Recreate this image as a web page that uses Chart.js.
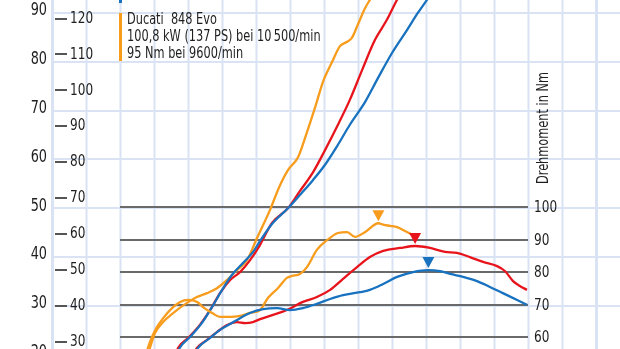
<!DOCTYPE html>
<html lang="de">
<head>
<meta charset="UTF-8">
<title>Ducati 848 Evo - Leistung und Drehmoment</title>
<script src="https://cdn.jsdelivr.net/npm/chart.js@4.4.1/dist/chart.umd.min.js"></script>
<style>
    html, body { margin: 0; padding: 0; background: #fff; }
    .wrap { position: relative; width: 620px; height: 349px; }
</style>
</head>
<body>
<div class="wrap"><canvas id="dyno"></canvas></div>
<script>
// Leistung (kW) ueber Drehzahl (1/min)
const orangePowerRpm = [2790, 2880, 3030, 3240, 3560, 3970, 4260, 4560, 4850, 5150, 5440, 5740, 6030, 6410, 6680, 6940, 7240, 7500, 7740, 7970, 8240, 8470, 8680, 8820, 9000, 9210, 9350, 9600, 10500];
const orangePowerKw  = [19.5, 21.4, 24.4, 26.5, 28.5, 30.6, 31.8, 32.6, 33.6, 35.3, 37.3, 39.4, 43.9, 49.6, 54.3, 57.8, 60.5, 65.6, 70.7, 75.9, 80.0, 83.2, 84.1, 84.9, 87.7, 91.0, 92.7, 95.5, 100.8];

const redPowerRpm = [3650, 3710, 4000, 4350, 4650, 4940, 5240, 5530, 5820, 6120, 6470, 6940, 7290, 7680, 8030, 8410, 8760, 9120, 9500, 9850, 10150, 10450];
const redPowerKw  = [20.3, 21.4, 23.4, 26.1, 29.1, 32.6, 35.3, 36.9, 39.3, 42.5, 47.0, 50.0, 53.5, 57.4, 61.9, 67.1, 72.2, 78.3, 84.5, 88.6, 92.7, 96.0];

const bluePowerRpm = [3700, 3760, 4060, 4410, 4710, 5000, 5290, 5620, 5910, 6120, 6500, 6940, 7290, 7680, 8030, 8410, 8760, 9210, 9590, 10000, 10440, 10760, 11030, 11300];
const bluePowerKw  = [20.4, 21.4, 23.6, 26.5, 29.8, 33.2, 36.3, 38.8, 41.0, 43.3, 47.0, 50.0, 52.7, 55.8, 58.9, 63.0, 67.1, 71.8, 76.7, 81.8, 86.5, 90.0, 92.7, 95.3];

// Drehmoment (Nm) ueber Drehzahl
const orangeTorqueRpm = [2780, 2820, 2940, 3090, 3270, 3530, 3770, 4000, 4270, 4440, 4710, 4940, 5240, 5530, 5820, 6120, 6350, 6650, 6910, 7060, 7290, 7500, 7790, 8090, 8410, 8680, 8910, 9210, 9600, 9740, 9940, 10150, 10440, 10620];
const orangeTorqueNm  = [55.0, 56.6, 60.0, 63.1, 65.8, 68.9, 70.8, 71.4, 70.8, 69.2, 67.4, 66.2, 66.2, 66.5, 67.4, 68.3, 72.0, 75.1, 78.2, 78.8, 79.4, 81.5, 86.8, 89.8, 92.0, 92.3, 90.8, 92.3, 95.0, 94.6, 94.2, 93.8, 92.3, 91.4];

const redTorqueRpm = [4180, 4260, 4560, 4850, 5150, 5440, 5680, 5910, 6120, 6500, 6910, 7380, 7790, 8180, 8560, 8970, 9350, 9740, 10240, 10680, 11120, 11560, 11910, 12290, 12680, 13090, 13320, 13560, 13760, 13970];
const redTorqueNm  = [55.0, 56.6, 59.1, 61.5, 63.7, 64.6, 64.3, 64.6, 65.5, 66.8, 68.3, 70.8, 72.3, 74.5, 77.9, 81.5, 84.6, 86.5, 87.4, 88.0, 87.4, 86.2, 85.9, 84.6, 83.1, 81.8, 80.3, 77.2, 75.7, 74.5];

const blueTorqueRpm = [4210, 4290, 4650, 4940, 5240, 5530, 5820, 6210, 6620, 7000, 7380, 7790, 8180, 8560, 9060, 9350, 9740, 10150, 10620, 11060, 11410, 11710, 12090, 12500, 12880, 13260, 13680, 13970];
const blueTorqueNm  = [55.0, 56.6, 59.7, 62.2, 64.0, 65.8, 67.4, 68.6, 68.9, 68.3, 68.9, 70.2, 71.7, 72.9, 73.8, 74.5, 76.3, 78.5, 80.0, 80.6, 80.3, 79.4, 78.5, 77.2, 75.4, 73.5, 71.4, 69.9];

// Maxima (Dreiecke)
const peakRpm = [9600, 10680, 11070];
const peakNm  = [95.0, 88.0, 80.6];

// Achsen
const kwTicks = [90, 80, 70, 60, 50, 40, 30, 20];
const psTicks = [120, 110, 100, 90, 80, 70, 60, 50, 40, 30];
const nmTicks = [100, 90, 80, 70, 60];
const legendLines = ['Ducati  848 Evo', '100,8 kW (137 PS) bei 10\u2009500/min', '95 Nm bei 9600/min'];
const torqueTitle = 'Drehmoment in Nm';

const ORANGE = '#f79c1c';
const RED = '#e8141c';
const BLUE = '#1872bf';
const FONT = '"Liberation Sans Narrow", "DejaVu Sans Condensed", "Roboto", sans-serif';
const SQUEEZE = 0.84;   // schmale Schrift wie im Original

function pts(xs, ys) {
    return xs.map((x, i) => ({ x: x, y: ys[i] }));
}

function line(xs, ys, color, axis) {
    return {
        data: pts(xs, ys),
        yAxisID: axis,
        borderColor: color,
        borderWidth: 2.3,
        pointRadius: 0,
        cubicInterpolationMode: 'monotone',
        fill: false
    };
}

function text(ctx, s, x, y, align) {
    ctx.save();
    ctx.translate(x, y);
    ctx.scale(SQUEEZE, 1);
    ctx.textAlign = align;
    ctx.fillText(s, 0, 0);
    ctx.restore();
}

// Raster, Drehmoment-Linien und Beschriftung
const dynoDecor = {
    id: 'dynoDecor',
    beforeDatasetsDraw(chart) {
        const ctx = chart.ctx;
        const x = chart.scales.x, kw = chart.scales.kw, nm = chart.scales.nm;
        ctx.save();
        ctx.strokeStyle = '#dae3f3';
        for (let r = 0; r <= 16000; r += 1000) {
            const px = Math.round(x.getPixelForValue(r)) + 0.5;
            ctx.lineWidth = (r === 0 || r === 16000) ? 3 : 2;
            ctx.beginPath();
            ctx.moveTo(px, 0);
            ctx.lineTo(px, chart.height);
            ctx.stroke();
        }
        ctx.lineWidth = 2;
        kwTicks.forEach(v => {
            const py = Math.round(kw.getPixelForValue(v));
            ctx.beginPath();
            ctx.moveTo(x.getPixelForValue(0), py);
            ctx.lineTo(chart.width, py);
            ctx.stroke();
        });
        ctx.strokeStyle = '#6a6a6a';
        ctx.lineWidth = 2;
        nmTicks.forEach(v => {
            const py = Math.round(nm.getPixelForValue(v));
            ctx.beginPath();
            ctx.moveTo(x.getPixelForValue(2000), py);
            ctx.lineTo(x.getPixelForValue(14000), py);
            ctx.stroke();
        });
        ctx.restore();
    },
    afterDatasetsDraw(chart) {
        const ctx = chart.ctx;
        const x = chart.scales.x, kw = chart.scales.kw, nm = chart.scales.nm;
        ctx.save();

        // Dreiecke ueber den Maxima
        [ORANGE, RED, BLUE].forEach((c, i) => {
            const px = x.getPixelForValue(peakRpm[i]);
            const tip = nm.getPixelForValue(peakNm[i]) - 2;
            ctx.fillStyle = c;
            ctx.beginPath();
            ctx.moveTo(px - 6, tip - 11);
            ctx.lineTo(px + 6, tip - 11);
            ctx.lineTo(px, tip);
            ctx.closePath();
            ctx.fill();
        });

        ctx.fillStyle = '#1e1e1e';
        ctx.textBaseline = 'middle';

        // kW links
        ctx.font = '17px ' + FONT;
        kwTicks.forEach(v => text(ctx, String(v), 47, kw.getPixelForValue(v) - 2, 'right'));

        // PS
        ctx.font = '16px ' + FONT;
        psTicks.forEach(v => {
            const py = kw.getPixelForValue(v / 1.36) - 3;
            ctx.fillStyle = '#555';
            ctx.fillRect(55, Math.round(py) - 1, 12, 2);
            ctx.fillStyle = '#1e1e1e';
            text(ctx, String(v), 70, py, 'left');
        });

        // Nm rechts
        nmTicks.forEach(v => text(ctx, String(v), 534, nm.getPixelForValue(v) + 1, 'left'));

        // Achsentitel
        ctx.save();
        ctx.translate(544, 128);
        ctx.rotate(-Math.PI / 2);
        ctx.font = '15px ' + FONT;
        text(ctx, torqueTitle, 0, 0, 'center');
        ctx.restore();

        // Legende
        ctx.fillStyle = BLUE;
        ctx.fillRect(119, 0, 3, 3);
        ctx.fillStyle = ORANGE;
        ctx.fillRect(119, 13, 3, 48);
        ctx.fillStyle = '#1e1e1e';
        ctx.font = '15px ' + FONT;
        legendLines.forEach((t, i) => text(ctx, t, 127, 20 + i * 17, 'left'));

        ctx.restore();
    }
};

document.addEventListener('DOMContentLoaded', () => {
    const ctx = document.getElementById('dyno').getContext('2d');
    new Chart(ctx, {
        type: 'line',
        data: {
            datasets: [
                line(blueTorqueRpm, blueTorqueNm, BLUE, 'nm'),
                line(redTorqueRpm, redTorqueNm, RED, 'nm'),
                line(orangeTorqueRpm, orangeTorqueNm, ORANGE, 'nm'),
                line(bluePowerRpm, bluePowerKw, BLUE, 'kw'),
                line(redPowerRpm, redPowerKw, RED, 'kw'),
                line(orangePowerRpm, orangePowerKw, ORANGE, 'kw')
            ]
        },
        options: {
            responsive: true,
            maintainAspectRatio: false,
            animation: false,
            layout: { padding: 0 },
            plugins: {
                legend: { display: false },
                tooltip: { enabled: false }
            },
            scales: {
                x: { type: 'linear', display: false, min: -1529.4, max: 16705.9 },
                kw: { type: 'linear', position: 'left', display: false, min: 21.15, max: 92.66 },
                nm: { type: 'linear', position: 'right', display: false, min: 56.31, max: 163.69 }
            }
        },
        plugins: [dynoDecor]
    });
});
</script>
</body>
</html>
